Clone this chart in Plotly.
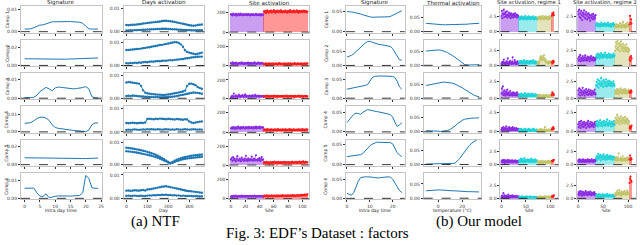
import plotly.graph_objects as go

# ---------------- data ----------------
HOURS = list(range(25))
DAYS = list(range(0, 361, 10))
TEMPS = list(range(-10, 35, 2))
COMPS = ["Comp 1", "Comp 2", "Comp 3", "Comp 4", "Comp 5", "Comp 6"]

# (a) NTF : signatures
NTF_SIG_1 = [0.0012,0.0012,0.0013,0.0018,0.0025,0.0030,0.0031,0.0035,0.0042,0.0045,0.0045,0.0046,0.0046,0.0046,0.0046,0.0046,0.0045,0.0044,0.0043,0.0038,0.0025,0.0013,0.0012,0.0012,0.0012]
NTF_SIG_2 = [0.0075,0.0074,0.0073,0.0072,0.0071,0.0072,0.0071,0.0070,0.0068,0.0066,0.0067,0.0068,0.0069,0.0070,0.0071,0.0072,0.0072,0.0073,0.0074,0.0075,0.0076,0.0078,0.0080,0.0082,0.0084]
NTF_SIG_3 = [0.0003,0.0002,0.0003,0.0005,0.0015,0.0035,0.0045,0.0058,0.0050,0.0040,0.0055,0.0060,0.0058,0.0056,0.0053,0.0050,0.0050,0.0052,0.0053,0.0057,0.0062,0.0050,0.0008,0.0002,0.0001]
NTF_SIG_4 = [0.0048,0.0048,0.0052,0.0062,0.0075,0.0082,0.0083,0.0078,0.0065,0.0040,0.0025,0.0020,0.0017,0.0014,0.0012,0.0010,0.0008,0.0007,0.0005,0.0003,0.0001,0.0010,0.0040,0.0050,0.0050]
NTF_SIG_5 = [0.0074,0.0074,0.0073,0.0073,0.0072,0.0072,0.0071,0.0071,0.0070,0.0070,0.0070,0.0069,0.0069,0.0069,0.0068,0.0068,0.0067,0.0067,0.0066,0.0066,0.0065,0.0067,0.0069,0.0070,0.0071]
NTF_SIG_6 = [0.0055,0.0055,0.0053,0.0056,0.0030,0.0012,0.0010,0.0025,0.0003,0.0008,0.0011,0.0013,0.0014,0.0014,0.0013,0.0012,0.0013,0.0014,0.0016,0.0030,0.0125,0.0110,0.0058,0.0055,0.0055]

# (a) NTF : days activation (two bands per component)
NTF_DAY_1_HI = [0.0029,0.0028,0.0029,0.0030,0.0030,0.0031,0.0032,0.0033,0.0035,0.0036,0.0038,0.0039,0.0040,0.0041,0.0042,0.0043,0.0044,0.0046,0.0047,0.0047,0.0046,0.0045,0.0044,0.0042,0.0040,0.0038,0.0036,0.0034,0.0032,0.0030,0.0028,0.0027,0.0026,0.0027,0.0029,0.0030,0.0031]
NTF_DAY_1_LO = [0.0006,0.0006,0.0007,0.0006,0.0007,0.0007,0.0008,0.0008,0.0009,0.0009,0.0010,0.0010,0.0011,0.0011,0.0012,0.0012,0.0012,0.0013,0.0013,0.0013,0.0012,0.0012,0.0011,0.0011,0.0010,0.0009,0.0009,0.0008,0.0008,0.0007,0.0007,0.0006,0.0006,0.0006,0.0007,0.0007,0.0007]
NTF_DAY_2_HI = [0.0066,0.0066,0.0067,0.0068,0.0069,0.0070,0.0071,0.0072,0.0074,0.0075,0.0077,0.0078,0.0080,0.0082,0.0083,0.0085,0.0087,0.0088,0.0090,0.0092,0.0094,0.0096,0.0098,0.0100,0.0099,0.0096,0.0090,0.0080,0.0065,0.0058,0.0055,0.0052,0.0050,0.0048,0.0050,0.0052,0.0055]
NTF_DAY_2_LO = [0.0010,0.0009,0.0011,0.0010,0.0012,0.0011,0.0013,0.0012,0.0014,0.0015,0.0014,0.0016,0.0017,0.0016,0.0018,0.0019,0.0018,0.0020,0.0021,0.0020,0.0022,0.0023,0.0022,0.0024,0.0025,0.0026,0.0027,0.0028,0.0030,0.0031,0.0032,0.0034,0.0035,0.0036,0.0037,0.0038,0.0038]
NTF_DAY_3_HI = [0.0070,0.0072,0.0071,0.0069,0.0068,0.0066,0.0065,0.0055,0.0035,0.0025,0.0022,0.0020,0.0019,0.0018,0.0017,0.0016,0.0016,0.0015,0.0015,0.0016,0.0017,0.0018,0.0020,0.0022,0.0024,0.0026,0.0028,0.0030,0.0034,0.0055,0.0064,0.0065,0.0062,0.0058,0.0050,0.0045,0.0042]
NTF_DAY_3_LO = [0.0010,0.0011,0.0010,0.0012,0.0011,0.0010,0.0009,0.0008,0.0008,0.0007,0.0007,0.0006,0.0006,0.0005,0.0005,0.0005,0.0004,0.0004,0.0004,0.0005,0.0005,0.0006,0.0007,0.0008,0.0010,0.0012,0.0014,0.0016,0.0018,0.0020,0.0022,0.0024,0.0026,0.0025,0.0024,0.0022,0.0020]
NTF_DAY_4_HI = [0.0038,0.0037,0.0038,0.0039,0.0038,0.0037,0.0038,0.0039,0.0038,0.0040,0.0055,0.0056,0.0055,0.0054,0.0056,0.0055,0.0057,0.0056,0.0055,0.0054,0.0056,0.0055,0.0054,0.0053,0.0055,0.0054,0.0053,0.0052,0.0054,0.0053,0.0045,0.0040,0.0038,0.0040,0.0042,0.0044,0.0045]
NTF_DAY_4_LO = [0.0009,0.0010,0.0009,0.0010,0.0011,0.0010,0.0009,0.0010,0.0011,0.0010,0.0012,0.0011,0.0012,0.0011,0.0010,0.0012,0.0011,0.0010,0.0011,0.0012,0.0011,0.0010,0.0011,0.0010,0.0012,0.0011,0.0010,0.0011,0.0012,0.0011,0.0010,0.0011,0.0012,0.0011,0.0010,0.0011,0.0010]
NTF_DAY_5_HI = [0.0075,0.0074,0.0073,0.0072,0.0070,0.0068,0.0066,0.0064,0.0062,0.0060,0.0057,0.0054,0.0051,0.0048,0.0044,0.0040,0.0035,0.0030,0.0024,0.0018,0.0012,0.0008,0.0012,0.0018,0.0022,0.0026,0.0029,0.0032,0.0034,0.0036,0.0038,0.0040,0.0041,0.0042,0.0043,0.0044,0.0045]
NTF_DAY_5_LO = [0.0060,0.0059,0.0058,0.0057,0.0055,0.0054,0.0052,0.0050,0.0048,0.0046,0.0044,0.0042,0.0040,0.0037,0.0034,0.0031,0.0027,0.0023,0.0019,0.0015,0.0010,0.0005,0.0008,0.0012,0.0016,0.0019,0.0022,0.0024,0.0026,0.0028,0.0029,0.0030,0.0031,0.0032,0.0033,0.0034,0.0035]
NTF_DAY_6_HI = [0.0033,0.0034,0.0032,0.0033,0.0035,0.0034,0.0033,0.0035,0.0036,0.0034,0.0038,0.0039,0.0040,0.0042,0.0044,0.0046,0.0048,0.0050,0.0051,0.0052,0.0050,0.0048,0.0046,0.0044,0.0042,0.0040,0.0038,0.0036,0.0034,0.0032,0.0031,0.0030,0.0029,0.0028,0.0027,0.0025,0.0024]
NTF_DAY_6_LO = [0.0011,0.0012,0.0010,0.0011,0.0012,0.0011,0.0010,0.0012,0.0011,0.0010,0.0012,0.0013,0.0012,0.0014,0.0013,0.0015,0.0014,0.0016,0.0015,0.0016,0.0014,0.0015,0.0013,0.0014,0.0012,0.0013,0.0011,0.0012,0.0011,0.0010,0.0011,0.0010,0.0009,0.0010,0.0009,0.0008,0.0009]

# (a) NTF : site activation, group A (purple) then group B (red)
NTF_SITE_1_A = [185,178,172,190,181,176,183,188,170,179,186,182,175,191,177,184,180,173,187,179,182,176,189,174,181,185,178,172,183,180,177,186,179,174,182,188,176,181,175,183,179,186,172,180,184,178]
NTF_SITE_1_B = [215,205,220,198,212,225,208,200,218,210,222,203,214,207,226,211,199,216,209,221,204,213,219,206,224,210,202,217,212,208,223,205,215,200,219,211,207,226,213,204,218,209,221,203,214,210,225,206,216,201,220,212,208,219,205,214,222,209,211,217,203,213]
NTF_SITE_2_A = [28,22,35,18,30,25,20,33,27,15,24,31,26,19,29,36,22,27,17,32,25,21,30,24,34,20,28,23,31,18,26,29,22,35,24,27,19,30,25,33,21,28,24,26,30,22]
NTF_SITE_2_B = [18,22,15,25,20,12,24,19,27,16,21,23,14,26,19,22,17,25,20,13,23,18,28,21,16,24,19,22,15,27,20,18,23,14,25,21,17,26,19,22,24,16,20,28,18,23,15,21,25,19,22,17,26,20,24,18,21,27,19,23,22,25]
NTF_SITE_3_A = [15,22,30,18,55,25,20,35,28,16,24,42,26,19,30,22,38,25,17,32,45,21,30,24,28,20,33,23,27,18,36,29,22,25,40,27,19,30,25,33,21,28,24,26,30,22]
NTF_SITE_3_B = [28,22,30,25,20,32,24,27,19,26,30,23,28,21,33,25,22,29,26,20,31,24,27,22,28,25,30,21,26,29,23,27,32,24,20,28,25,31,22,26,29,24,27,21,30,25,23,28,26,32,24,22,27,29,25,21,28,26,30,23,27,25]
NTF_SITE_4_A = [42,50,38,55,45,48,35,52,47,40,58,44,50,36,53,46,41,57,49,43,38,54,47,51,39,56,45,48,42,53,50,37,55,46,44,58,41,52,48,45,60,43,50,55,47,52]
NTF_SITE_4_B = [25,30,22,28,20,32,26,24,29,18,27,31,23,26,21,30,25,28,19,27,33,24,22,29,26,20,31,25,28,23,27,30,21,26,24,29,32,22,27,25,20,28,31,23,26,24,29,22,27,30,25,21,28,26,33,24,27,22,29,25,30,28]
NTF_SITE_5_A = [60,75,45,85,55,70,50,40,65,95,52,48,70,58,42,80,62,55,45,68,50,100,60,44,72,55,48,65,52,90,58,46,70,62,50,105,56,48,66,52,75,44,60,85,55,62]
NTF_SITE_5_B = [25,32,20,28,35,22,30,26,18,33,27,24,31,21,29,36,23,27,30,19,34,25,28,22,32,26,20,31,24,35,28,22,30,27,33,21,29,25,32,24,38,26,22,30,28,34,23,27,31,25,36,29,24,32,27,40,30,26,35,28,33,30]
NTF_SITE_6_A = [22,28,18,30,25,20,32,24,27,19,26,30,23,28,21,33,25,22,29,26,20,31,24,27,22,28,25,30,21,26,29,23,27,32,24,20,28,25,31,22,26,29,24,27,21,30]
NTF_SITE_6_B = [28,32,25,30,35,27,22,33,29,26,31,36,24,30,28,34,26,32,29,25,35,30,27,33,28,31,37,26,30,34,29,32,27,36,30,33,28,35,31,29,38,32,30,36,28,34,33,39,31,35,30,37,34,40,33,38,36,42,35,44,38,46]

# (b) Our model : signatures
OUR_SIG_1 = [0.050,0.050,0.049,0.048,0.047,0.046,0.044,0.042,0.040,0.038,0.037,0.036,0.036,0.036,0.036,0.036,0.036,0.036,0.037,0.038,0.041,0.045,0.048,0.050,0.052]
OUR_SIG_2 = [0.030,0.032,0.036,0.042,0.050,0.058,0.066,0.073,0.080,0.085,0.086,0.083,0.080,0.077,0.075,0.074,0.073,0.072,0.071,0.068,0.060,0.045,0.030,0.020,0.019]
OUR_SIG_3 = [0.024,0.025,0.026,0.027,0.028,0.029,0.030,0.032,0.034,0.036,0.045,0.054,0.058,0.059,0.059,0.059,0.059,0.059,0.059,0.058,0.058,0.055,0.045,0.030,0.024]
OUR_SIG_4 = [0.024,0.030,0.038,0.045,0.048,0.047,0.045,0.050,0.054,0.057,0.056,0.054,0.053,0.052,0.051,0.050,0.049,0.048,0.046,0.044,0.038,0.025,0.014,0.018,0.023]
OUR_SIG_5 = [0.020,0.021,0.022,0.022,0.023,0.024,0.025,0.028,0.035,0.041,0.047,0.051,0.054,0.056,0.056,0.056,0.056,0.056,0.056,0.055,0.052,0.040,0.030,0.024,0.020]
OUR_SIG_6 = [0.013,0.010,0.008,0.015,0.030,0.045,0.054,0.056,0.056,0.056,0.056,0.055,0.054,0.053,0.053,0.054,0.055,0.056,0.056,0.055,0.050,0.040,0.030,0.020,0.015]

# (b) Our model : thermal activation
OUR_THERM_1 = [0.029,0.028,0.027,0.026,0.026,0.025,0.025,0.024,0.024,0.024,0.024,0.024,0.024,0.025,0.025,0.025,0.026,0.026,0.027,0.027,0.028,0.028,0.029]
OUR_THERM_2 = [0.050,0.051,0.052,0.053,0.054,0.054,0.053,0.051,0.048,0.044,0.040,0.034,0.028,0.021,0.014,0.008,0.003,0.001,0.001,0.002,0.002,0.002,0.002]
OUR_THERM_3 = [0.046,0.048,0.050,0.052,0.054,0.056,0.057,0.058,0.058,0.057,0.056,0.054,0.051,0.047,0.043,0.038,0.032,0.026,0.020,0.015,0.010,0.007,0.005]
OUR_THERM_4 = [0.004,0.004,0.003,0.003,0.002,0.002,0.001,0.002,0.003,0.005,0.008,0.013,0.020,0.028,0.035,0.040,0.044,0.046,0.047,0.048,0.048,0.049,0.049]
OUR_THERM_5 = [0.002,0.002,0.002,0.003,0.003,0.002,0.002,0.002,0.002,0.003,0.003,0.004,0.005,0.012,0.022,0.035,0.048,0.060,0.070,0.078,0.085,0.090,0.094]
OUR_THERM_6 = [0.026,0.027,0.027,0.028,0.028,0.029,0.029,0.028,0.028,0.027,0.027,0.026,0.026,0.025,0.025,0.024,0.024,0.023,0.023,0.023,0.022,0.022,0.022]

# (b) Our model : site activation, regime 1 and 2 (groups A purple, B cyan, C olive, D red)
R1_1_A = [2.6,3.4,2.2,3.0,2.8,3.6,2.4,2.9,3.2,2.5,2.7,3.3,2.3,2.8,2.6,3.1,2.4,2.9,2.7,2.2,3.0,2.5,2.8,2.6,2.3,2.9,2.7,2.4,3.0,2.6,2.5,2.8,2.3,2.7,2.6,2.4]
R1_1_B = [2.1,2.3,2.0,2.4,2.2,2.5,2.1,2.3,2.2,2.0,2.4,2.3,2.1,2.6,2.2,2.3,2.0,2.4,2.2,2.1,2.5,2.3,2.2,2.0,2.4,2.1,2.3,2.2,2.5,2.1,2.3,2.0,2.2,2.4,2.1,2.3,2.2,2.0]
R1_1_C = [2.2,2.4,2.1,2.3,2.5,2.2,2.0,2.4,2.3,2.1,2.6,2.2,2.3,2.0,2.4,2.2,2.5,2.1,2.3,2.2,2.4,2.0,2.3,2.1,2.5,2.2,2.4,2.3,2.1]
R1_1_D = [2.6,3.0,2.8,3.1,2.7]
R2_1_A = [3.3,2.8,3.6,2.4,3.0,2.2,3.4,2.7,1.9,3.1,2.5,2.9,3.5,2.3,2.8,2.1,3.2,2.6,2.0,2.9,2.4,3.0,2.2,2.7,1.8,2.6,2.3,2.8,2.1,2.5,2.9,2.0,2.4,2.6,2.2,2.7]
R2_1_B = [1.2,1.0,1.4,0.9,1.1,1.3,1.0,1.2,0.8,1.1,1.5,1.0,1.2,0.9,1.3,1.1,1.0,1.4,1.2,0.9,1.1,1.3,1.0,1.2,1.5,0.9,1.1,1.2,1.0,1.3,0.8,1.1,1.2,1.0,1.4,1.1,0.9,1.2]
R2_1_C = [0.8,1.0,0.7,1.2,0.9,0.8,1.1,0.7,1.0,0.9,1.4,0.8,1.0,0.7,1.2,0.9,1.6,0.8,1.0,1.1,0.7,0.9,1.3,0.8,1.0,1.5,0.9,1.1,0.8]
R2_1_D = [1.2,2.6,1.5,2.0,1.3]

R1_2_A = [0.3,0.5,0.2,0.6,0.4,1.0,0.3,0.5,0.2,0.4,0.7,0.3,0.5,1.2,0.4,0.2,0.6,0.3,0.8,0.4,0.5,0.2,0.6,1.4,0.3,0.5,0.4,0.9,0.3,0.6,0.2,0.5,0.4,0.7,0.3,0.5]
R1_2_B = [0.5,0.7,0.4,0.6,0.8,0.5,0.3,0.7,0.6,0.4,0.9,0.5,0.6,0.3,0.7,0.5,0.8,0.4,0.6,0.5,0.7,0.3,0.6,0.8,0.5,0.4,0.7,0.6,0.5,0.9,0.4,0.6,0.5,0.7,0.3,0.6,0.5,0.4]
R1_2_C = [0.4,0.6,0.3,0.5,0.8,1.2,1.5,1.0,1.6,1.3,0.9,1.4,1.1,1.7,1.2,0.8,1.0,0.6,0.5,0.7,0.4,0.6,0.3,0.5,0.7,0.4,0.6,0.5,0.4]
R1_2_D = [0.5,0.7,0.4,0.8,0.6]
R2_2_A = [1.2,0.8,1.5,1.0,1.8,0.7,1.3,1.1,0.9,1.6,1.2,0.8,1.4,1.0,1.7,0.9,1.3,1.1,0.8,1.5,1.2,1.0,1.4,0.7,1.3,1.1,1.6,0.9,1.2,1.0,1.4,0.8,1.3,1.1,0.9,1.2]
R2_2_B = [1.5,1.8,1.3,2.0,1.6,1.4,1.9,1.2,1.7,1.5,2.1,1.4,1.8,1.6,1.3,1.9,1.5,1.7,2.2,1.4,1.6,1.8,1.3,1.7,1.5,2.0,1.4,1.6,1.9,1.3,1.7,1.5,1.8,1.4,1.6,2.0,1.5,1.7]
R2_2_C = [2.5,3.2,4.0,2.8,3.6,4.2,3.0,2.6,3.8,3.3,2.4,3.5,4.1,2.9,3.2,2.6,3.7,3.0,2.4,3.4,2.8,3.1,2.5,3.6,2.7,3.0,2.3,2.9,2.6]
R2_2_D = [1.0,1.4,0.8,1.6,1.2]

R1_3_A = [0.8,1.5,0.6,1.8,0.9,0.5,1.2,0.7,0.4,1.0,0.6,0.8,1.3,0.5,0.7,0.9,0.4,0.6,1.1,0.5,0.8,0.6,0.4,0.7,0.9,0.5,0.6,0.8,0.4,0.7,0.5,0.6,0.9,0.4,0.6,0.5]
R1_3_B = [0.4,0.6,0.3,0.5,0.4,0.7,0.3,0.5,0.4,0.6,0.3,0.5,0.8,0.4,0.3,0.6,0.4,0.5,0.3,0.7,0.4,0.5,0.3,0.6,0.4,0.5,0.7,0.3,0.4,0.6,0.5,0.3,0.4,0.6,0.5,0.3,0.4,0.5]
R1_3_C = [0.3,0.4,0.2,0.3,0.5,0.3,0.2,0.4,0.3,0.2,0.4,0.3,0.5,0.2,0.3,0.4,0.2,0.3,0.5,0.3,0.2,0.4,0.3,0.2,0.4,0.3,0.5,0.3,0.2]
R1_3_D = [0.5,0.9,0.6,0.7,0.5]
R2_3_A = [1.2,0.6,1.5,0.9,0.4,1.3,0.8,1.1,0.5,1.6,0.9,0.7,1.2,0.4,1.0,0.8,1.4,0.6,0.9,1.1,0.5,1.3,0.7,1.0,0.6,1.2,0.8,0.5,1.1,0.9,0.6,1.0,0.7,1.3,0.8,0.6]
R2_3_B = [2.0,2.5,1.8,2.9,2.2,1.6,2.7,2.1,2.4,1.9,3.1,2.3,2.0,2.6,1.7,2.8,2.2,2.5,1.9,2.4,2.9,2.1,1.8,2.6,2.3,2.0,2.7,2.2,1.9,2.5,2.1,2.4,1.8,2.3,2.0,2.6,2.2,1.9]
R2_3_C = [0.9,1.2,0.7,1.0,1.4,0.8,1.1,0.6,1.3,0.9,1.0,1.5,0.8,1.2,0.7,1.0,1.3,0.9,1.1,0.8,1.4,1.0,0.7,1.2,0.9,1.1,0.8,1.3,1.0]
R2_3_D = [0.9,1.1,0.8,1.2,1.0]

R1_4_A = [0.3,0.5,0.2,0.4,0.6,0.3,0.2,0.5,0.4,0.3,0.7,0.2,0.4,0.3,0.5,0.2,0.6,0.3,0.4,0.2,0.5,0.3,0.4,0.6,0.2,0.3,0.5,0.4,0.2,0.3,0.5,0.3,0.4,0.2,0.3,0.4]
R1_4_B = [0.2,0.3,0.1,0.2,0.4,0.2,0.1,0.3,0.2,0.1,0.3,0.2,0.4,0.1,0.2,0.3,0.2,0.1,0.3,0.2,0.4,0.2,0.1,0.3,0.2,0.1,0.2,0.3,0.2,0.4,0.1,0.2,0.3,0.2,0.1,0.2,0.3,0.2]
R1_4_C = [0.2,0.1,0.3,0.2,0.1,0.2,0.4,0.2,0.1,0.3,0.2,0.1,0.2,0.3,0.2,0.6,0.2,0.1,0.3,0.2,0.1,0.2,0.3,0.1,0.2,0.3,0.2,0.1,0.2]
R1_4_D = [0.3,0.5,0.4,0.6,0.4]
R2_4_A = [1.0,0.6,1.3,0.8,1.1,0.5,1.4,0.9,0.7,1.2,1.0,0.6,1.3,0.8,1.1,0.9,0.5,1.2,1.0,0.7,1.4,0.8,1.1,0.6,1.0,1.3,0.7,0.9,1.2,0.8,1.0,0.6,1.1,0.9,1.3,0.8]
R2_4_B = [1.1,0.8,1.4,1.0,0.7,1.3,0.9,1.2,1.5,0.8,1.1,1.0,1.3,0.7,1.2,0.9,1.4,1.1,0.8,1.0,1.3,0.9,1.6,1.1,0.8,1.2,1.0,1.4,0.9,1.1,0.7,1.3,1.0,1.2,0.8,1.1,1.4,0.9]
R2_4_C = [1.3,1.8,1.1,1.6,2.2,1.4,1.2,1.9,1.5,1.0,1.7,1.3,2.0,1.4,1.1,1.6,1.8,1.2,1.5,1.3,1.9,1.1,1.4,1.7,1.2,1.6,1.0,1.4,1.3]
R2_4_D = [0.5,0.7,0.4,0.6,0.8]

R1_5_A = [0.6,0.8,0.4,0.7,0.5,0.9,0.6,0.3,0.8,0.5,0.7,0.6,0.4,0.9,0.5,0.7,0.6,0.8,0.4,0.6,0.7,0.5,0.8,0.6,0.4,0.7,0.5,0.6,0.8,0.5,0.7,0.4,0.6,0.5,0.7,0.6]
R1_5_B = [0.6,0.9,0.5,0.8,1.1,0.6,0.7,1.0,0.5,0.8,0.6,1.2,0.7,0.5,0.9,0.6,0.8,0.7,1.0,0.5,0.7,0.9,0.6,0.8,0.5,1.1,0.7,0.6,0.9,0.5,0.8,0.7,0.6,1.0,0.5,0.7,0.8,0.6]
R1_5_C = [0.5,0.4,0.6,0.5,0.3,0.6,0.4,0.5,0.7,0.4,0.5,0.3,0.6,0.5,0.4,0.6,0.5,0.3,0.5,0.6,0.4,0.5,0.7,0.4,0.5,0.6,0.4,0.5,0.6]
R1_5_D = [0.7,0.6,0.8,0.7,0.9]
R2_5_A = [0.7,0.9,0.5,1.0,0.6,0.8,0.7,0.5,0.9,0.6,1.0,0.7,0.5,0.8,0.6,0.9,0.7,0.5,0.8,1.0,0.6,0.7,0.9,0.5,0.8,0.6,0.7,1.0,0.6,0.8,0.5,0.7,0.9,0.6,0.8,0.7]
R2_5_B = [1.2,1.6,0.9,1.4,2.0,1.1,1.5,1.3,1.8,0.8,1.4,1.2,1.7,1.0,1.5,1.9,1.1,1.3,1.6,0.9,1.4,1.2,1.8,1.0,1.5,1.3,1.1,1.7,1.4,1.0,1.6,1.2,1.4,0.9,1.5,1.3,1.1,1.4]
R2_5_C = [0.9,1.2,0.8,1.0,1.4,0.7,1.1,2.1,0.9,1.0,0.8,1.3,0.9,1.1,0.7,1.6,1.0,0.8,1.2,0.9,1.0,0.7,1.1,0.9,1.3,0.8,1.0,0.9,1.2]
R2_5_D = [1.0,1.7,0.9,1.2,1.0]

R1_6_A = [0.3,0.5,0.2,0.4,1.0,0.3,0.2,0.6,0.4,0.3,0.5,0.2,0.4,0.3,0.7,0.2,0.4,0.3,0.5,0.2,0.3,0.4,0.6,0.2,0.3,0.5,0.3,0.4,0.2,0.3,0.5,0.3,0.4,0.2,0.3,0.4]
R1_6_B = [0.2,0.3,0.2,0.1,0.3,0.2,0.4,0.1,0.2,0.3,0.2,0.1,0.3,0.2,0.2,0.4,0.1,0.2,0.3,0.2,0.1,0.3,0.2,0.4,0.2,0.1,0.2,0.3,0.2,0.1,0.3,0.2,0.2,0.3,0.1,0.2,0.3,0.2]
R1_6_C = [0.2,0.3,0.1,0.2,0.3,0.2,0.4,0.2,0.1,0.3,0.2,0.2,0.3,0.1,0.2,0.4,0.2,0.3,0.1,0.2,0.3,0.2,0.4,0.2,0.1,0.3,0.2,0.3,0.2]
R1_6_D = [0.3,0.5,0.3,0.4,0.6]
R2_6_A = [0.8,1.2,0.6,1.0,1.4,0.7,0.9,1.3,0.5,1.1,0.8,1.2,0.6,1.0,0.9,1.4,0.7,1.1,0.8,0.6,1.2,0.9,1.0,0.7,1.3,0.8,0.6,1.1,0.9,0.7,1.0,0.8,1.2,0.6,0.9,0.8]
R2_6_B = [0.5,0.7,0.4,0.6,0.3,0.8,0.5,0.4,0.7,0.5,0.3,0.6,0.5,0.8,0.4,0.6,0.5,0.3,0.7,0.5,0.6,0.4,0.8,0.5,0.3,0.6,0.5,0.7,0.4,0.5,0.6,0.3,0.5,0.7,0.4,0.6,0.5,0.4]
R2_6_C = [0.7,1.0,0.6,1.2,0.8,1.5,0.9,0.7,1.1,1.6,0.8,1.0,0.6,1.3,0.9,0.7,1.2,1.0,0.8,1.4,0.9,1.1,0.7,1.0,1.5,0.8,1.2,0.9,1.1]
R2_6_D = [3.0,3.8,4.2,3.5,3.2]

# axis ticks / ranges
NTF_SIG_YTICK = [0.01, 0.02, 0.01, 0.01, 0.02, 0.01]
NTF_SIG_YMAX = [0.0117, 0.029, 0.0133, 0.0145, 0.0267, 0.0141]
OUR_SIG_YMAX = [0.064, 0.092, 0.066, 0.066, 0.062, 0.067]
OUR_SITE_YMAX = [4.2, 4.4, 3.8, 3.3, 4.6, 5.0]

# ---------------- layout helpers ----------------
W, H = 640, 245
ROWS = [(6, 33), (40, 67), (74, 100), (107, 134), (141, 167), (174, 201)]
LCOLS = [(21, 102), (124, 205), (230, 310)]
RCOLS = [(347, 406), (425, 483), (502, 560), (579, 638)]
BLUE = "#1f77b4"
PURPLE, CYAN, OLIVE, RED = "#8a2be2", "#1fd3d8", "#c2c46a", "#ff1a1a"
FONT = "DejaVu Sans"

fig = go.Figure()
lay = {}
shapes = []
annots = []
cnt = [0]

AX = dict(showline=True, mirror=True, linecolor="#c4c4c4", linewidth=1, ticks="outside",
          ticklen=2, tickwidth=0.6, tickcolor="#333", showgrid=False, zeroline=False,
          tickfont=dict(size=4.5, color="#333", family=FONT), fixedrange=True)


def axes(colpx, r, xr, yr, xt, yt, yfmt, xlab):
    cnt[0] += 1
    s = "" if cnt[0] == 1 else str(cnt[0])
    top, bot = ROWS[r]
    lay["xaxis" + s] = dict(domain=[colpx[0] / W, colpx[1] / W], anchor="y" + s, range=xr,
                            tickvals=xt, showticklabels=xlab, **AX)
    lay["yaxis" + s] = dict(domain=[1 - bot / H, 1 - top / H], anchor="x" + s, range=yr,
                            tickvals=[0, yt], ticktext=[format(0, yfmt), format(yt, yfmt)], **AX)
    shapes.append(dict(type="line", xref="x" + s + " domain", x0=0, x1=1, yref="y" + s, y0=0, y1=0,
                       line=dict(color="black", width=0.8, dash="dash"), layer="above"))
    return "x" + s, "y" + s


def line(xa, ya, x, y):
    fig.add_trace(go.Scatter(x=x, y=y, mode="lines", line=dict(color=BLUE, width=1),
                             xaxis=xa, yaxis=ya, showlegend=False, hoverinfo="skip"))


def dots(xa, ya, x, y):
    fig.add_trace(go.Scatter(x=x, y=y, mode="lines+markers", line=dict(color=BLUE, width=1),
                             marker=dict(color=BLUE, size=2.4), xaxis=xa, yaxis=ya,
                             showlegend=False, hoverinfo="skip"))


def sites(xa, ya, groups):
    start = 0
    for vals, col in groups:
        xs = list(range(start, start + len(vals)))
        fig.add_trace(go.Bar(x=xs, y=vals, marker=dict(color=col, line=dict(width=0)), opacity=0.45,
                             width=0.8, xaxis=xa, yaxis=ya, showlegend=False, hoverinfo="skip"))
        fig.add_trace(go.Scatter(x=xs, y=vals, mode="markers", marker=dict(color=col, size=2.2),
                                 xaxis=xa, yaxis=ya, showlegend=False, hoverinfo="skip"))
        start += len(vals)


def ann(text, xpx, ypx, size=4.5, angle=0, family=FONT, color="#222", xanchor="center"):
    annots.append(dict(text=text, x=xpx / W, y=1 - ypx / H, xref="paper", yref="paper",
                       showarrow=False, textangle=angle, xanchor=xanchor, yanchor="middle",
                       font=dict(size=size, family=family, color=color)))


NTF_SIG = [NTF_SIG_1, NTF_SIG_2, NTF_SIG_3, NTF_SIG_4, NTF_SIG_5, NTF_SIG_6]
NTF_DAY = [(NTF_DAY_1_HI, NTF_DAY_1_LO), (NTF_DAY_2_HI, NTF_DAY_2_LO), (NTF_DAY_3_HI, NTF_DAY_3_LO),
           (NTF_DAY_4_HI, NTF_DAY_4_LO), (NTF_DAY_5_HI, NTF_DAY_5_LO), (NTF_DAY_6_HI, NTF_DAY_6_LO)]
NTF_SITE = [(NTF_SITE_1_A, NTF_SITE_1_B), (NTF_SITE_2_A, NTF_SITE_2_B), (NTF_SITE_3_A, NTF_SITE_3_B),
            (NTF_SITE_4_A, NTF_SITE_4_B), (NTF_SITE_5_A, NTF_SITE_5_B), (NTF_SITE_6_A, NTF_SITE_6_B)]
OUR_SIG = [OUR_SIG_1, OUR_SIG_2, OUR_SIG_3, OUR_SIG_4, OUR_SIG_5, OUR_SIG_6]
OUR_THERM = [OUR_THERM_1, OUR_THERM_2, OUR_THERM_3, OUR_THERM_4, OUR_THERM_5, OUR_THERM_6]
REG1 = [(R1_1_A, R1_1_B, R1_1_C, R1_1_D), (R1_2_A, R1_2_B, R1_2_C, R1_2_D), (R1_3_A, R1_3_B, R1_3_C, R1_3_D),
        (R1_4_A, R1_4_B, R1_4_C, R1_4_D), (R1_5_A, R1_5_B, R1_5_C, R1_5_D), (R1_6_A, R1_6_B, R1_6_C, R1_6_D)]
REG2 = [(R2_1_A, R2_1_B, R2_1_C, R2_1_D), (R2_2_A, R2_2_B, R2_2_C, R2_2_D), (R2_3_A, R2_3_B, R2_3_C, R2_3_D),
        (R2_4_A, R2_4_B, R2_4_C, R2_4_D), (R2_5_A, R2_5_B, R2_5_C, R2_5_D), (R2_6_A, R2_6_B, R2_6_C, R2_6_D)]

for r in range(6):
    last = r == 5
    # --- NTF
    hi = NTF_SIG_YMAX[r]
    xa, ya = axes(LCOLS[0], r, [-1.2, 25.2], [-0.04 * hi, hi], [0, 5, 10, 15, 20, 25], NTF_SIG_YTICK[r], ".2f", last)
    line(xa, ya, HOURS, NTF_SIG[r])
    xa, ya = axes(LCOLS[1], r, [-13, 372], [-0.0004, 0.011], [0, 100, 200, 300], 0.01, ".2f", last)
    dots(xa, ya, DAYS, NTF_DAY[r][0])
    dots(xa, ya, DAYS, NTF_DAY[r][1])
    xa, ya = axes(LCOLS[2], r, [-2.4, 109.3], [-6, 270], [0, 20, 40, 60, 80, 100], 200, "d", last)
    sites(xa, ya, [(NTF_SITE[r][0], PURPLE), (NTF_SITE[r][1], RED)])
    # --- Our model
    hi = OUR_SIG_YMAX[r]
    xa, ya = axes(RCOLS[0], r, [-0.45, 25.3], [-0.04 * hi, hi], [0, 10, 20], 0.05, ".2f", last)
    line(xa, ya, HOURS, OUR_SIG[r])
    xa, ya = axes(RCOLS[1], r, [-12, 36], [-0.004, 0.09], [0, 20], 0.05, ".2f", last)
    line(xa, ya, TEMPS, OUR_THERM[r])
    hi = OUR_SITE_YMAX[r]
    for col, reg in ((RCOLS[2], REG1), (RCOLS[3], REG2)):
        xa, ya = axes(col, r, [-2, 116], [-0.04 * hi, hi], [0, 50, 100], 2.5, ".1f", last)
        sites(xa, ya, list(zip(reg[r], [PURPLE, CYAN, OLIVE, RED])))
    # row labels
    cy = (ROWS[r][0] + ROWS[r][1]) / 2
    ann(COMPS[r], 7, cy, angle=-90)
    ann(COMPS[r], 327, cy, angle=-90)

# column titles
for text, xc, fs in (("Signature", 61.5, 5.6), ("Days activation", 164.5, 5.6), ("Site activation", 270, 5.6),
                     ("Signature", 376.5, 5.6), ("Thermal activation", 454, 5.6),
                     ("Site activation, regime 1", 531, 5.2), ("Site activation, regime 2", 607, 5.2)):
    ann(text, xc, 3, size=fs)

# x axis labels
for text, col in (("Intra day time", LCOLS[0]), ("Day", LCOLS[1]), ("Site", LCOLS[2]),
                  ("Intra day time", RCOLS[0]), ("temperature (°C)", RCOLS[1]),
                  ("Site", RCOLS[2]), ("Site", RCOLS[3])):
    ann(text, (col[0] + col[1]) / 2, 212.5, size=4.5)

# captions
ann("(a) NTF", 156, 223.5, size=15, family="Liberation Serif", color="black")
ann("(b) Our model", 481, 223.5, size=15, family="Liberation Serif", color="black")
ann("Fig. 3: EDF’s Dataset : factors", 318, 234.5, size=15, family="Liberation Serif", color="black")

fig.update_layout(width=W, height=H, margin=dict(l=0, r=0, t=0, b=0), paper_bgcolor="white",
                  plot_bgcolor="white", showlegend=False, bargap=0, shapes=shapes, annotations=annots, **lay)
fig.write_html("out.html", config={"displayModeBar": False},
               post_script="document.body.style.margin='0';document.body.style.overflow='hidden';")
